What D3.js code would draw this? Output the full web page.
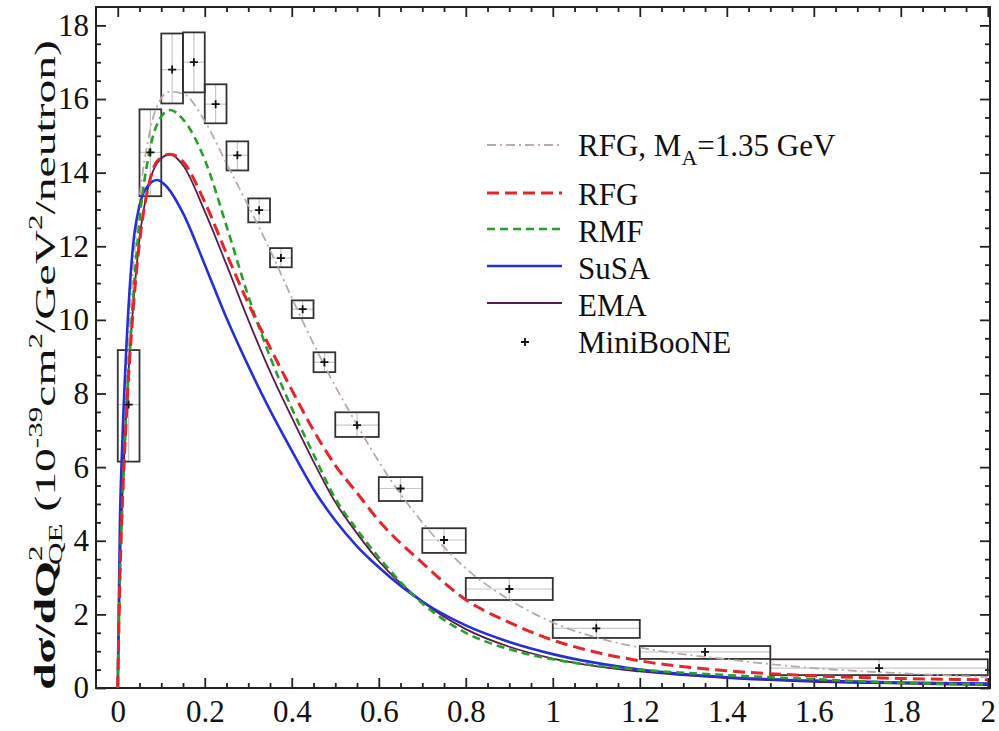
<!DOCTYPE html>
<html>
<head>
<meta charset="utf-8">
<script src="https://cdn.jsdelivr.net/npm/d3@7"></script>
<style>
  body { margin: 0; background: #fff; }
  svg text { font-family: "Liberation Serif", "Times New Roman", serif; }
</style>
</head>
<body>
<svg id="chart" width="999" height="731"></svg>
<script>
// MiniBooNE bins (Q^2 edges), central values and box extents
const binLo   = [0, 0.05, 0.10, 0.15, 0.20, 0.25, 0.30, 0.35, 0.40, 0.45, 0.50, 0.60, 0.70, 0.80, 1.00, 1.20, 1.50];
const binHi   = [0.05, 0.10, 0.15, 0.20, 0.25, 0.30, 0.35, 0.40, 0.45, 0.50, 0.60, 0.70, 0.80, 1.00, 1.20, 1.50, 2.00];
const dataQ   = [0.025, 0.075, 0.125, 0.175, 0.225, 0.275, 0.325, 0.375, 0.425, 0.475, 0.55, 0.65, 0.75, 0.90, 1.10, 1.35, 1.75];
const dataVal = [7.7, 14.55, 16.8, 17.0, 15.86, 14.47, 12.98, 11.68, 10.29, 8.85, 7.14, 5.42, 4.02, 2.69, 1.62, 0.98, 0.54];
const boxLo   = [6.15, 13.36, 15.88, 16.18, 15.34, 14.06, 12.65, 11.43, 10.05, 8.58, 6.82, 5.08, 3.67, 2.39, 1.36, 0.79, 0.35];
const boxHi   = [9.18, 15.72, 17.78, 17.81, 16.40, 14.85, 13.30, 11.95, 10.53, 9.12, 7.49, 5.73, 4.34, 2.99, 1.85, 1.14, 0.78];

// theory curves, [Q^2, value]
const rfg135 = [[0,0],[0.005,3.3],[0.01,5.3],[0.02,8.2],[0.035,11.3],[0.05,13.3],[0.07,14.9],[0.09,15.8],[0.12,16.2],[0.15,16.15],[0.2,15.4],[0.25,14.25],[0.3,13.1],[0.35,11.9],[0.4,10.6],[0.45,9.35],[0.5,8.2],[0.55,7.15],[0.6,6.15],[0.7,4.5],[0.8,3.25],[0.9,2.4],[1.0,1.78],[1.1,1.37],[1.2,1.1],[1.4,0.78],[1.6,0.54],[1.8,0.4],[2.0,0.3]];
const rfg    = [[0,0],[0.005,3.0],[0.01,4.8],[0.02,7.4],[0.035,10.2],[0.05,12.1],[0.07,13.6],[0.09,14.3],[0.12,14.5],[0.15,14.3],[0.2,13.2],[0.25,11.8],[0.3,10.45],[0.35,9.25],[0.4,8.1],[0.45,7.0],[0.5,6.05],[0.55,5.3],[0.6,4.55],[0.7,3.4],[0.8,2.4],[0.9,1.78],[1.0,1.3],[1.1,0.97],[1.2,0.74],[1.4,0.47],[1.6,0.33],[1.8,0.26],[2.0,0.22]];
const rmf    = [[0,0],[0.005,3.0],[0.01,4.8],[0.02,7.5],[0.035,10.5],[0.05,12.7],[0.07,14.4],[0.09,15.3],[0.12,15.7],[0.15,15.45],[0.2,14.35],[0.25,12.55],[0.3,10.65],[0.35,9.0],[0.4,7.6],[0.45,6.35],[0.5,5.15],[0.55,4.3],[0.6,3.55],[0.7,2.3],[0.8,1.5],[0.9,1.05],[1.0,0.78],[1.2,0.5],[1.4,0.35],[1.6,0.24],[1.8,0.14],[2.0,0.1]];
const susa   = [[0,0],[0.005,4.5],[0.01,6.5],[0.02,9.3],[0.035,12.0],[0.05,13.1],[0.07,13.65],[0.09,13.8],[0.11,13.65],[0.15,12.9],[0.2,11.5],[0.25,10.05],[0.3,8.75],[0.35,7.55],[0.4,6.45],[0.45,5.4],[0.5,4.55],[0.55,3.85],[0.6,3.28],[0.7,2.35],[0.8,1.7],[0.9,1.25],[1.0,0.92],[1.2,0.5],[1.4,0.29],[1.6,0.2],[1.8,0.15],[2.0,0.12]];
const ema    = [[0,0],[0.005,3.2],[0.01,5.0],[0.02,7.6],[0.035,10.3],[0.05,12.2],[0.07,13.6],[0.09,14.25],[0.12,14.5],[0.15,14.2],[0.2,12.95],[0.25,11.5],[0.3,10.0],[0.35,8.6],[0.4,7.35],[0.45,6.15],[0.5,5.05],[0.55,4.2],[0.6,3.45],[0.7,2.35],[0.8,1.6],[0.9,1.12],[1.0,0.8],[1.2,0.45],[1.4,0.27],[1.6,0.17],[1.8,0.12],[2.0,0.08]];

const seriesColors = { RFG135: "#bca8a8", RFG: "#e3262a", RMF: "#27a02a", SuSA: "#2430d6", EMA: "#5c1a4c" };

const xTicks = [0, 0.2, 0.4, 0.6, 0.8, 1, 1.2, 1.4, 1.6, 1.8, 2];
const yTicks = [0, 2, 4, 6, 8, 10, 12, 14, 16, 18];

const svg = d3.select("#chart");
const pLeft = 96, pRight = 990, pTop = 7, pBottom = 688;

const x = d3.scaleLinear().domain([-0.05, 2.005]).range([pLeft, pRight]);
const y = d3.scaleLinear().domain([0, 18.5]).range([pBottom, pTop]);

svg.append("defs").append("clipPath").attr("id", "plotclip")
  .append("rect").attr("x", pLeft).attr("y", pTop).attr("width", pRight - pLeft).attr("height", pBottom - pTop);

// axes: major + minor inward ticks on all four sides
const xMinor = d3.range(0, 2.0001, 0.05).filter(v => Math.abs(v / 0.2 - Math.round(v / 0.2)) > 1e-6);
const yMinor = d3.range(0, 18.001, 0.5).filter(v => Math.abs(v / 2 - Math.round(v / 2)) > 1e-6);

function styleAxis(g) {
  g.select(".domain").remove();
  g.selectAll(".tick line").attr("stroke", "#222").attr("stroke-width", 1.8);
}
function styleLabels(g) {
  g.selectAll("text").attr("font-size", 31).attr("fill", "#111")
    .attr("font-family", "Liberation Serif, serif");
}

svg.append("g").attr("transform", `translate(0,${pBottom})`)
  .call(d3.axisBottom(x).tickValues(xTicks).tickSize(-10).tickPadding(12).tickFormat(d3.format("~g")))
  .call(styleAxis).call(styleLabels);
svg.append("g").attr("transform", `translate(0,${pBottom})`)
  .call(d3.axisBottom(x).tickValues(xMinor).tickSize(-5).tickFormat(""))
  .call(styleAxis);
svg.append("g").attr("transform", `translate(0,${pTop})`)
  .call(d3.axisTop(x).tickValues(xTicks).tickSize(-10).tickFormat(""))
  .call(styleAxis);
svg.append("g").attr("transform", `translate(0,${pTop})`)
  .call(d3.axisTop(x).tickValues(xMinor).tickSize(-5).tickFormat(""))
  .call(styleAxis);

svg.append("g").attr("transform", `translate(${pLeft},0)`)
  .call(d3.axisLeft(y).tickValues(yTicks).tickSize(-10).tickPadding(7))
  .call(styleAxis).call(styleLabels);
svg.append("g").attr("transform", `translate(${pLeft},0)`)
  .call(d3.axisLeft(y).tickValues(yMinor).tickSize(-5).tickFormat(""))
  .call(styleAxis);
svg.append("g").attr("transform", `translate(${pRight},0)`)
  .call(d3.axisRight(y).tickValues(yTicks).tickSize(-10).tickFormat(""))
  .call(styleAxis);
svg.append("g").attr("transform", `translate(${pRight},0)`)
  .call(d3.axisRight(y).tickValues(yMinor).tickSize(-5).tickFormat(""))
  .call(styleAxis);

svg.append("rect")
  .attr("x", pLeft).attr("y", pTop).attr("width", pRight - pLeft).attr("height", pBottom - pTop)
  .attr("fill", "none").attr("stroke", "#222").attr("stroke-width", 2);

// data boxes
const plot = svg.append("g").attr("clip-path", "url(#plotclip)");
const boxes = plot.append("g");
dataQ.forEach((q, i) => {
  const bx = x(binLo[i]), bw = x(binHi[i]) - x(binLo[i]);
  const by = y(boxHi[i]), bh = y(boxLo[i]) - y(boxHi[i]);
  boxes.append("line").attr("x1", x(q)).attr("x2", x(q)).attr("y1", by).attr("y2", by + bh)
    .attr("stroke", "#c8c8c8").attr("stroke-width", 1.2);
  boxes.append("line").attr("x1", bx).attr("x2", bx + bw).attr("y1", y(dataVal[i])).attr("y2", y(dataVal[i]))
    .attr("stroke", "#c8c8c8").attr("stroke-width", 1.2);
  boxes.append("rect").attr("x", bx).attr("y", by).attr("width", bw).attr("height", bh)
    .attr("fill", "none").attr("stroke", "#333").attr("stroke-width", 1.8);
});

// theory curves
const line = d3.line().x(d => x(d[0])).y(d => y(d[1])).curve(d3.curveMonotoneX);
const curves = [
  { name: "RFG135", data: rfg135, width: 1.8, dash: "9,4,2,4" },
  { name: "EMA", data: ema, width: 1.8, dash: null },
  { name: "SuSA", data: susa, width: 2.6, dash: null },
  { name: "RMF", data: rmf, width: 2.6, dash: "8,5" },
  { name: "RFG", data: rfg, width: 3, dash: "12,6" }
];
curves.forEach(c => {
  plot.append("path").attr("d", line(c.data))
    .attr("fill", "none").attr("stroke", seriesColors[c.name])
    .attr("stroke-width", c.width).attr("stroke-dasharray", c.dash);
});

// data markers
dataQ.forEach((q, i) => {
  const cx = x(q), cy = y(dataVal[i]);
  plot.append("path").attr("d", `M${cx - 4},${cy}H${cx + 4}M${cx},${cy - 4}V${cy + 4}`)
    .attr("stroke", "#111").attr("stroke-width", 1.8);
});

// legend
const legend = svg.append("g");
const legendItems = [
  { name: "RFG135", y: 145, ty: 156 },
  { name: "RFG", y: 193, ty: 205 },
  { name: "RMF", y: 229, ty: 242 },
  { name: "SuSA", y: 266, ty: 279 },
  { name: "EMA", y: 303, ty: 316 },
  { name: "MiniBooNE", y: 342, ty: 353 }
];
legendItems.forEach(it => {
  if (it.name === "MiniBooNE") {
    legend.append("path").attr("d", `M${521},${it.y}H${529}M${525},${it.y - 4}V${it.y + 4}`)
      .attr("stroke", "#111").attr("stroke-width", 1.8);
  } else {
    const c = curves.find(c => c.name === it.name);
    legend.append("line").attr("x1", 487).attr("x2", 562).attr("y1", it.y).attr("y2", it.y)
      .attr("stroke", seriesColors[it.name]).attr("stroke-width", c.width).attr("stroke-dasharray", c.dash);
  }
  const t = legend.append("text").attr("x", 578).attr("y", it.ty).attr("font-size", 31).attr("fill", "#111");
  if (it.name === "RFG135") {
    t.append("tspan").text("RFG, M");
    t.append("tspan").attr("dy", 9).attr("font-size", 22).text("A");
    t.append("tspan").attr("dy", -9).text("=1.35 GeV");
  } else {
    t.text(it.name);
  }
});

// y-axis title, stretched along its length to span the axis like the original
const yl = svg.append("text")
  .attr("text-anchor", "middle")
  .attr("font-family", "DejaVu Sans, sans-serif").attr("font-size", 29).attr("fill", "#111");
yl.append("tspan").attr("font-weight", "bold").text("dσ/dQ");
yl.append("tspan").attr("dy", -13).attr("font-size", 19).text("2");
yl.append("tspan").attr("dy", 20).attr("dx", -12).attr("font-size", 19).text("QE");
yl.append("tspan").attr("dy", -7).text(" (10");
yl.append("tspan").attr("dy", -13).attr("font-size", 19).text("-39");
yl.append("tspan").attr("dy", 13).text("cm");
yl.append("tspan").attr("dy", -13).attr("font-size", 19).text("2");
yl.append("tspan").attr("dy", 13).text("/GeV");
yl.append("tspan").attr("dy", -13).attr("font-size", 19).text("2");
yl.append("tspan").attr("dy", 13).text("/neutron)");
const ylWidth = yl.node().getBBox().width;
yl.attr("transform", `translate(55,365) rotate(-90) scale(${650 / ylWidth},1)`);
</script>
</body>
</html>
